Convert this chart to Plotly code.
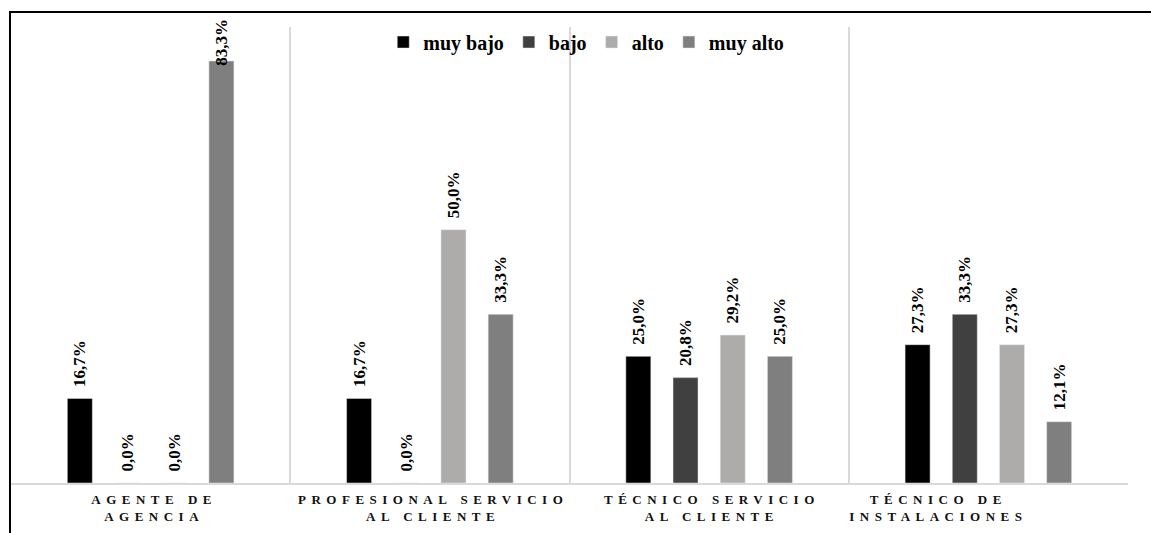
import plotly.graph_objects as go

# Nivel por cargo (porcentaje de trabajadores)
categories = ["AGENTE DE<br>AGENCIA", "PROFESIONAL SERVICIO<br>AL CLIENTE",
              "TÉCNICO SERVICIO<br>AL CLIENTE", "TÉCNICO DE<br>INSTALACIONES"]
muy_bajo = [16.7, 16.7, 25.0, 27.3]
bajo = [0.0, 0.0, 20.8, 33.3]
alto = [0.0, 50.0, 29.2, 27.3]
muy_alto = [83.3, 33.3, 25.0, 12.1]

series = [
    ("muy bajo", muy_bajo, "#000000"),
    ("bajo", bajo, "#404040"),
    ("alto", alto, "#AEABAB"),
    ("muy alto", muy_alto, "#7F7F7F"),
]

serif = "Liberation Serif"
y_max = 90
bargap, bargroupgap = 0.324, 0.47
label_room = 11          # value units a label needs above its bar
xpos = list(range(len(categories)))
# two no-break spaces lift the rotated value labels clear of the bar tops
lift = "\u00a0\u00a0"
value_font = dict(family=serif, size=17, color="#000000", weight="bold")


def fmt(v):
    return f"{v:.1f}%".replace(".", ",")


fig = go.Figure()
slot = (1 - bargap) / len(series)
for k, (name, vals, color) in enumerate(series):
    fits = [v + label_room <= y_max for v in vals]
    fig.add_trace(go.Bar(
        name=name, x=xpos, y=vals, marker_color=color,
        text=[lift + fmt(v) if ok else "" for v, ok in zip(vals, fits)],
        textposition="outside", textangle=-90, textfont=value_font,
        cliponaxis=False, constraintext="none",
    ))
    # labels that would run past the top are pulled down onto the bar end
    offset = (k - (len(series) - 1) / 2) * slot
    for i, (v, ok) in enumerate(zip(vals, fits)):
        if not ok:
            fig.add_annotation(x=i + offset, y=v, xref="x", yref="y", text=fmt(v),
                               showarrow=False, textangle=-90, font=value_font,
                               yanchor="bottom", yshift=-6, borderpad=0)

# category labels under each group
label_shift = [0, 0, 0, -53]
for i, cat in enumerate(categories):
    fig.add_annotation(
        x=i, y=0, xref="x", yref="y", text=cat, showarrow=False,
        yanchor="top", yshift=-7, xshift=label_shift[i] + 3,
        font=dict(family=serif, size=13, color="#111111", weight="bold"),
        align="center", name="cat",
    )

# outer frame of the chart
fig.add_shape(type="rect", xref="paper", yref="paper",
              x0=-0.0009, x1=1.05, y0=-0.3, y1=1.0329,
              line=dict(color="#000000", width=2), layer="above")

fig.update_layout(
    width=1151, height=533,
    margin=dict(l=11, r=23, t=27, b=50),
    paper_bgcolor="white", plot_bgcolor="white",
    barmode="group", bargap=bargap, bargroupgap=bargroupgap,
    showlegend=True,
    legend=dict(orientation="h", x=0.515, xanchor="center", y=0.967, yanchor="middle",
                font=dict(family=serif, size=20, color="#000000", weight="bold"),
                bgcolor="rgba(0,0,0,0)", itemclick=False),
    xaxis=dict(range=[-0.5, 3.5], tickvals=[-0.5, 0.5, 1.5, 2.5, 3.5], showticklabels=False,
               showgrid=True, gridcolor="#D9D9D9", gridwidth=2, ticks="",
               showline=True, linecolor="#D9D9D9", linewidth=2, zeroline=False),
    yaxis=dict(range=[0, y_max], visible=False, showgrid=False, zeroline=False),
)

# widen the tracking of the category captions (the multi-line annotations)
spacing_js = (
    "document.querySelectorAll('.annotation-text').forEach(function(t){"
    "if (t.querySelector('tspan.line')) { t.style.letterSpacing='5.5px'; }});"
)
fig.write_html("out.html", post_script=spacing_js)
